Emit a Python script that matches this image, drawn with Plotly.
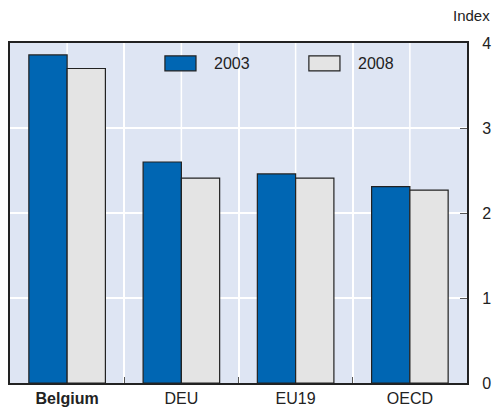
import plotly.graph_objects as go

categories = ["Belgium", "DEU", "EU19", "OECD"]
tick_labels = ["<b>Belgium</b>", "DEU", "EU19", "OECD"]
series_names = ["2003", "2008"]
values_2003 = [3.86, 2.60, 2.46, 2.31]
values_2008 = [3.70, 2.41, 2.41, 2.27]
y_ticks = [0, 1, 2, 3, 4]

FONT = "Liberation Sans, Arial, sans-serif"
COLORS = ["#0066b3", "#e4e4e4"]
EDGE = "#222222"

fig = go.Figure()
for name, vals, col in zip(series_names, [values_2003, values_2008], COLORS):
    fig.add_trace(go.Bar(x=categories, y=vals, name=name, showlegend=False,
                         marker=dict(color=col, line=dict(color=EDGE, width=1.2))))

# gridlines at category centres
for c in categories:
    fig.add_shape(type="line", xref="x", yref="paper", x0=c, x1=c, y0=0, y1=1,
                  line=dict(color="white", width=1.5), layer="below")

# legend (swatch + label) drawn in paper space
legend_x = [0.339, 0.654]
for name, col, lx in zip(series_names, COLORS, legend_x):
    fig.add_shape(type="rect", xref="paper", yref="paper",
                  x0=lx, x1=lx + 0.068, y0=0.918, y1=0.962,
                  fillcolor=col, line=dict(color=EDGE, width=1.2))
    fig.add_annotation(text=name, xref="paper", yref="paper", x=lx + 0.103, y=0.940,
                       xanchor="left", yanchor="middle", showarrow=False,
                       font=dict(size=16))

fig.add_annotation(text="Index", xref="paper", yref="paper", x=1.055, y=1.05,
                   xanchor="right", yanchor="bottom", showarrow=False,
                   font=dict(size=15))

fig.update_layout(
    width=494, height=413,
    margin=dict(l=10, r=27, t=43, b=30, autoexpand=False),
    paper_bgcolor="white", plot_bgcolor="#dee5f3",
    barmode="group", bargap=0.33, bargroupgap=0,
    font=dict(family=FONT, size=15, color="#222222"),
    showlegend=False,
)
fig.update_xaxes(
    type="category", categoryorder="array", categoryarray=categories,
    tickvals=categories, ticktext=tick_labels,
    tickson="boundaries", ticks="inside", ticklen=6, tickcolor="#555555",
    showgrid=True, gridcolor="white", gridwidth=1.5,
    showline=True, linecolor="#222222", linewidth=2, mirror=True,
    tickfont=dict(size=16), range=[-0.5, 3.5],
)
fig.update_yaxes(
    side="right", range=[0, 4], tickvals=y_ticks,
    ticks="inside", ticklen=7, tickcolor="#555555",
    showgrid=True, gridcolor="white", gridwidth=1.5,
    showline=True, linecolor="#222222", linewidth=2, mirror=True,
    zeroline=False, tickfont=dict(size=16), ticklabelstandoff=10,
)

fig.write_html("out.html", config={"displayModeBar": False},
               post_script="document.body.style.margin='0';")
